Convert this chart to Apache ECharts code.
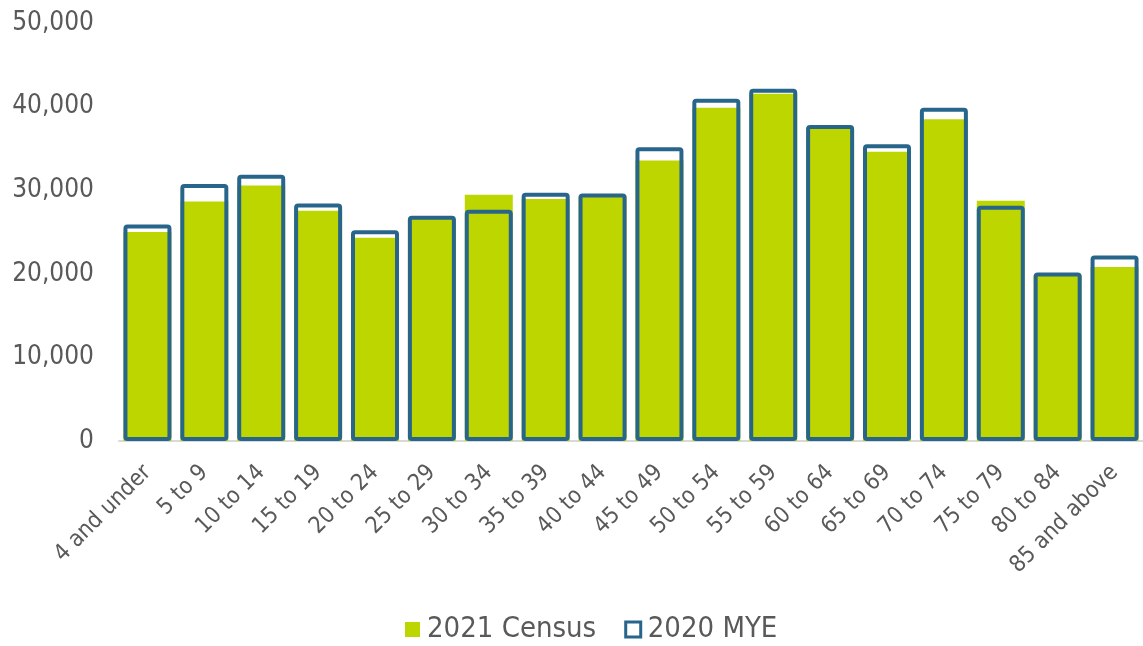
<!DOCTYPE html>
<html lang="en">
<head>
    <meta charset="UTF-8">
    <title>Population by age</title>
    <script src="https://cdn.jsdelivr.net/npm/echarts@6/dist/echarts.min.js"></script>
    <style>
        html, body { margin: 0; padding: 0; background: #fff; }
    </style>
</head>
<body>
<div id="chart" style="width:1143px;height:646px;"></div>
<script>
    var ageBands = ['4 and under', '5 to 9', '10 to 14', '15 to 19', '20 to 24', '25 to 29',
        '30 to 34', '35 to 39', '40 to 44', '45 to 49', '50 to 54', '55 to 59',
        '60 to 64', '65 to 69', '70 to 74', '75 to 79', '80 to 84', '85 and above'];
    var census2021 = [25000, 28650, 30550, 27550, 24300, 26550, 29450, 28950, 29350, 33550,
        39850, 41550, 37500, 34600, 38500, 28750, 19850, 20800];
    var mye2020 = [25900, 30750, 31850, 28400, 25200, 26950, 27650, 29700, 29600, 35150,
        40950, 42150, 37800, 35500, 39850, 28150, 20150, 22200];
    var yTicks = [0, 10000, 20000, 30000, 40000, 50000];

    var font = '"DejaVu Sans Condensed", "DejaVu Sans", sans-serif';
    var green = '#bdd600';
    var blue = '#28658b';

    var chart = echarts.init(document.getElementById('chart'));
    chart.setOption({
        animation: false,
        grid: { left: 119, right: -9, top: 23, bottom: 205 },
        legend: {
            left: 400,
            top: 610,
            itemWidth: 15,
            itemHeight: 15,
            itemGap: 28,
            textStyle: { fontFamily: font, fontSize: 29, color: '#595959', padding: [0, 0, 0, 2] },
            data: [
                { name: '2021 Census', icon: 'rect', itemStyle: { color: green, borderWidth: 0 } },
                { name: '2020 MYE', icon: 'rect', itemStyle: { color: '#fff', borderColor: blue, borderWidth: 3 } }
            ]
        },
        xAxis: {
            type: 'category',
            data: ageBands,
            axisTick: { show: false },
            axisLine: { lineStyle: { color: '#d9d9d9', width: 2 } },
            axisLabel: {
                rotate: 45,
                interval: 0,
                margin: 28,
                fontFamily: font,
                fontSize: 23,
                color: '#595959'
            }
        },
        yAxis: {
            type: 'value',
            min: 0,
            max: yTicks[yTicks.length - 1],
            interval: yTicks[1] - yTicks[0],
            splitLine: { show: false },
            axisLine: { show: false },
            axisLabel: {
                margin: 25,
                fontFamily: font,
                fontSize: 26,
                color: '#595959',
                formatter: function (v) { return v.toLocaleString('en-GB'); }
            }
        },
        series: [
            {
                name: '2021 Census',
                type: 'bar',
                data: census2021,
                barWidth: 48,
                itemStyle: { color: green }
            },
            {
                name: '2020 MYE',
                type: 'bar',
                data: mye2020,
                barWidth: 48,
                barGap: '-100%',
                itemStyle: { color: 'rgba(0,0,0,0)', borderColor: blue, borderWidth: 4, borderRadius: 2 }
            }
        ]
    });
</script>
</body>
</html>
